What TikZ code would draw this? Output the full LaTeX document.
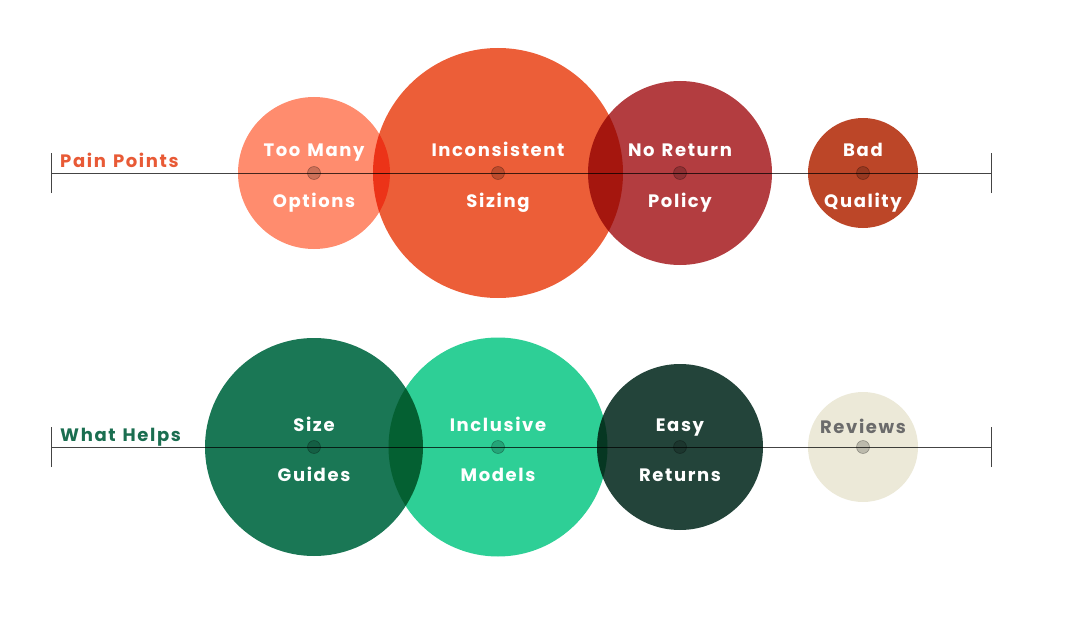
\documentclass[tikz,border=0pt]{standalone}
\usepackage{fontspec}
\setmainfont{Poppins}[LetterSpace=9,WordSpace=1.3]
\definecolor{salmon}{HTML}{FF8C6E}
\definecolor{orng}{HTML}{EC5E38}
\definecolor{redc}{HTML}{B33D40}
\definecolor{rust}{HTML}{BC4628}
\definecolor{dgreen}{HTML}{1A7755}
\definecolor{mint}{HTML}{2ECF96}
\definecolor{forest}{HTML}{23443A}
\definecolor{beige}{HTML}{ECE9D8}
\definecolor{painc}{HTML}{E85A36}
\definecolor{helpc}{HTML}{1A6E50}
\definecolor{axisc}{HTML}{444444}
\tikzset{
  bubble/.style={circle, inner sep=0pt, minimum size=#1},
  cdot/.style={circle, inner sep=0pt, minimum size=13pt, fill=black, fill opacity=0.2, draw=black, draw opacity=0.3, line width=0.6pt},
  lbl/.style={anchor=base, text=white, font=\bfseries\fontsize{18}{20}\selectfont, inner sep=0pt},
  axislbl/.style={anchor=base west, font=\bfseries\fontsize{18}{20}\selectfont, inner sep=0pt},
  axisline/.style={draw=axisc, line width=1pt}
}
\begin{document}
\begin{tikzpicture}[x=1pt,y=-1pt]
\useasboundingbox (0,0) rectangle (1072,618);
% axes
\coordinate (t0) at (51,173); \coordinate (t1) at (991,173);
\coordinate (b0) at (51,447); \coordinate (b1) at (991,447);
\draw[axisline] (t0) -- (t1);
\draw[axisline] ([yshift=-20pt]t0) -- ([yshift=20pt]t0);
\draw[axisline] ([yshift=-20pt]t1) -- ([yshift=20pt]t1);
\draw[axisline] (b0) -- (b1);
\draw[axisline] ([yshift=-20pt]b0) -- ([yshift=20pt]b0);
\draw[axisline] ([yshift=-20pt]b1) -- ([yshift=20pt]b1);
\node[axislbl, text=painc] (pain) at (60,167) {Pain Points};
\node[axislbl, text=helpc] (help) at (60,441) {What Helps};
% bubbles
\begin{scope}[blend mode=multiply]
\node[bubble=152pt, fill=salmon] (c1) at (314,173) {};
\node[bubble=250pt, fill=orng] (c2) at (498,173) {};
\node[bubble=184pt, fill=redc] (c3) at (680,173) {};
\node[bubble=110pt, fill=rust] (c4) at (863,173) {};
\node[bubble=218pt, fill=dgreen] (d1) at (314,447) {};
\node[bubble=219pt, fill=mint] (d2) at (498,447) {};
\node[bubble=166pt, fill=forest] (d3) at (680,447) {};
\node[bubble=110pt, fill=beige] (d4) at (863,447) {};
\end{scope}
% dots
\foreach \n in {c1,c2,c3,c4,d1,d2,d3,d4} \node[cdot] (\n-dot) at (\n.center) {};
% labels
\node[lbl] (c1a) at ([yshift=16pt]c1.center) {Too Many};
\node[lbl] (c1b) at ([yshift=-34pt]c1.center) {Options};
\node[lbl] (c2a) at ([yshift=16pt]c2.center) {Inconsistent};
\node[lbl] (c2b) at ([yshift=-34pt]c2.center) {Sizing};
\node[lbl] (c3a) at ([yshift=16pt]c3.center) {No Return};
\node[lbl] (c3b) at ([yshift=-34pt]c3.center) {Policy};
\node[lbl] (c4a) at ([yshift=16pt]c4.center) {Bad};
\node[lbl] (c4b) at ([yshift=-34pt]c4.center) {Quality};
\node[lbl] (d1a) at ([yshift=16pt]d1.center) {Size};
\node[lbl] (d1b) at ([yshift=-34pt]d1.center) {Guides};
\node[lbl] (d2a) at ([yshift=16pt]d2.center) {Inclusive};
\node[lbl] (d2b) at ([yshift=-34pt]d2.center) {Models};
\node[lbl] (d3a) at ([yshift=16pt]d3.center) {Easy};
\node[lbl] (d3b) at ([yshift=-34pt]d3.center) {Returns};
\node[lbl, text=black!58] (d4a) at ([yshift=14pt]d4.center) {Reviews};
\end{tikzpicture}
\end{document}
